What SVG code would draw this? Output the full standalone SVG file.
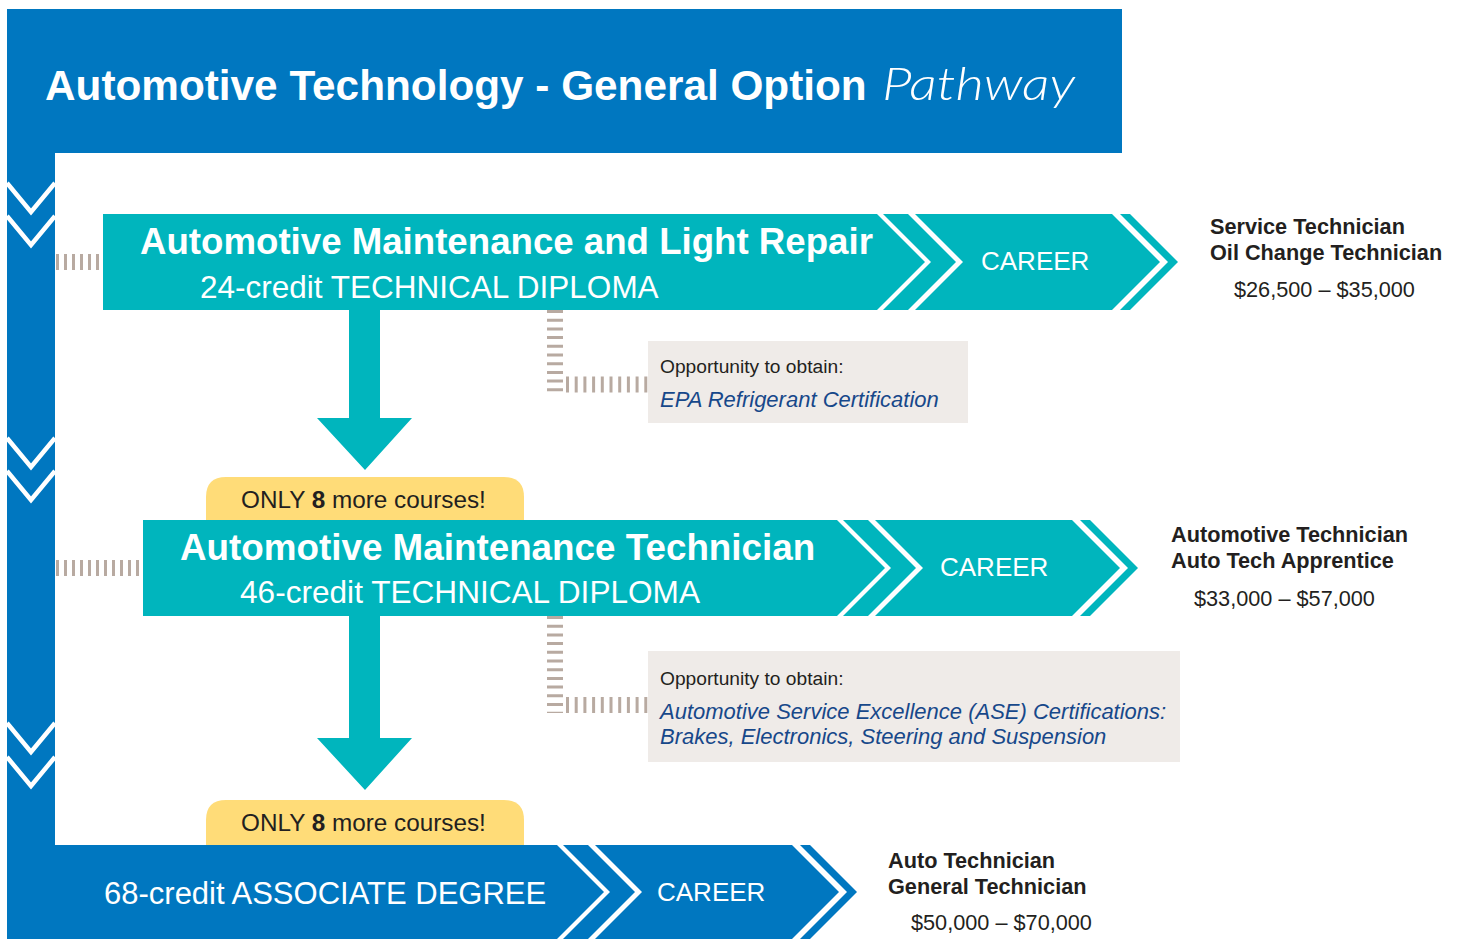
<svg xmlns="http://www.w3.org/2000/svg" width="1458" height="939" viewBox="0 0 1458 939">
<style>
.blue{fill:#0077C0}
.teal{fill:#00B5BD}
.pill{fill:#FFDC78}
.box{fill:#EFEBE8}
.dash{fill:none;stroke:#B8AAA1;stroke-width:16;stroke-dasharray:3 5}
.dashv{fill:none;stroke:#B8AAA1;stroke-width:16;stroke-dasharray:3 5.7}
.vee{fill:none;stroke:#fff;stroke-width:4.5}
.t{font-family:"Liberation Sans",Arial,sans-serif}
.w{fill:#fff}
.dk{fill:#231F20}
.it{fill:#17488A;font-style:italic}
</style>
<rect width="1458" height="939" fill="#fff"/>

<g id="header">
  <rect class="blue" x="7" y="9" width="1115" height="144"/>
  <text class="t w" x="45" y="100" font-size="42.3" font-weight="bold">Automotive Technology - General Option</text>
  <text x="882" y="100" font-family="Lato,'Open Sans',sans-serif" font-style="italic" font-weight="300" font-size="46" fill="#fff" textLength="193" lengthAdjust="spacingAndGlyphs">Pathway</text>
</g>

<g id="spine">
  <rect class="blue" x="7" y="150" width="48" height="700"/>
  <polyline class="vee" points="7,183 31,212 55,183"/>
  <polyline class="vee" points="7,216 31,245 55,216"/>
  <polyline class="vee" points="7,438 31,467 55,438"/>
  <polyline class="vee" points="7,471 31,500 55,471"/>
  <polyline class="vee" points="7,723 31,752 55,723"/>
  <polyline class="vee" points="7,757 31,786 55,757"/>
</g>

<g id="connectors">
  <line class="dash" x1="56" y1="262" x2="101" y2="262"/>
  <line class="dash" x1="56" y1="568" x2="141" y2="568"/>
  <line class="dashv" x1="555" y1="310" x2="555" y2="393"/>
  <line class="dashv" x1="566" y1="384.5" x2="650" y2="384.5"/>
  <line class="dashv" x1="555" y1="616" x2="555" y2="713"/>
  <line class="dashv" x1="566" y1="705" x2="650" y2="705"/>
  <polygon class="teal" points="349,308 380,308 380,418 412,418 365,470 317,418 349,418"/>
  <polygon class="teal" points="349,614 380,614 380,738 412,738 365,790 317,738 349,738"/>
</g>

<g id="pill1">
  <path class="pill" d="M206,530 V497 Q206,477 226,477 H504 Q524,477 524,497 V530 Z"/>
  <text class="t dk" x="241" y="508" font-size="24.3">ONLY <tspan font-weight="bold">8</tspan> more courses!</text>
</g>

<g id="pill2">
  <path class="pill" d="M206,850 V820 Q206,800 226,800 H504 Q524,800 524,820 V850 Z"/>
  <text class="t dk" x="241" y="831" font-size="24.3">ONLY <tspan font-weight="bold">8</tspan> more courses!</text>
</g>

<g id="row1">
  <polygon class="teal" points="103,214 877,214 925,262 877,310 103,310"/>
  <polygon class="teal" points="883,214 908,214 956,262 908,310 883,310 931,262"/>
  <polygon class="teal" points="915,214 1112,214 1160,262 1112,310 915,310 963,262"/>
  <polygon class="teal" points="1120,214 1130,214 1178,262 1130,310 1120,310 1168,262"/>
  <text class="t w" x="140" y="254" font-size="36.65" font-weight="bold">Automotive Maintenance and Light Repair</text>
  <text class="t w" x="200" y="298" font-size="31.5">24-credit TECHNICAL DIPLOMA</text>
  <text class="t w" x="981" y="270" font-size="26">CAREER</text>
</g>

<g id="career1">
  <text class="t dk" x="1210" y="233.5" font-size="21.7" font-weight="bold">Service Technician</text>
  <text class="t dk" x="1210" y="259.5" font-size="21.7" font-weight="bold">Oil Change Technician</text>
  <text class="t dk" x="1234" y="296.5" font-size="21.7">$26,500 – $35,000</text>
</g>

<g id="opp1">
  <rect class="box" x="648" y="341" width="320" height="82"/>
  <text class="t dk" x="660" y="373" font-size="19.2">Opportunity to obtain:</text>
  <text class="t it" x="660" y="406.5" font-size="22">EPA Refrigerant Certification</text>
</g>

<g id="row2">
  <polygon class="teal" points="143,520 837,520 885,568 837,616 143,616"/>
  <polygon class="teal" points="843,520 868,520 916,568 868,616 843,616 891,568"/>
  <polygon class="teal" points="875,520 1072,520 1120,568 1072,616 875,616 923,568"/>
  <polygon class="teal" points="1080,520 1090,520 1138,568 1090,616 1080,616 1128,568"/>
  <text class="t w" x="180" y="560" font-size="36.8" font-weight="bold">Automotive Maintenance Technician</text>
  <text class="t w" x="240" y="603" font-size="31.6">46-credit TECHNICAL DIPLOMA</text>
  <text class="t w" x="940" y="576" font-size="26">CAREER</text>
</g>

<g id="career2">
  <text class="t dk" x="1171" y="541.5" font-size="21.7" font-weight="bold">Automotive Technician</text>
  <text class="t dk" x="1171" y="567.5" font-size="21.7" font-weight="bold">Auto Tech Apprentice</text>
  <text class="t dk" x="1194" y="605.5" font-size="21.7">$33,000 – $57,000</text>
</g>

<g id="opp2">
  <rect class="box" x="648" y="651" width="532" height="111"/>
  <text class="t dk" x="660" y="685" font-size="19.2">Opportunity to obtain:</text>
  <text class="t it" x="660" y="718.5" font-size="22">Automotive Service Excellence (ASE) Certifications:</text>
  <text class="t it" x="660" y="743.5" font-size="22">Brakes, Electronics, Steering and Suspension</text>
</g>

<g id="row3">
  <polygon class="blue" points="7,845 557,845 604,892 557,939 7,939"/>
  <polygon class="blue" points="563,845 588,845 635,892 588,939 563,939 610,892"/>
  <polygon class="blue" points="595,845 792,845 839,892 792,939 595,939 642,892"/>
  <polygon class="blue" points="800,845 810,845 857,892 810,939 800,939 847,892"/>
  <text class="t w" x="104" y="904" font-size="31">68-credit ASSOCIATE DEGREE</text>
  <text class="t w" x="657" y="901" font-size="26">CAREER</text>
</g>

<g id="career3">
  <text class="t dk" x="888" y="867.5" font-size="21.7" font-weight="bold">Auto Technician</text>
  <text class="t dk" x="888" y="893.5" font-size="21.7" font-weight="bold">General Technician</text>
  <text class="t dk" x="911" y="929.5" font-size="21.7">$50,000 – $70,000</text>
</g>
</svg>
